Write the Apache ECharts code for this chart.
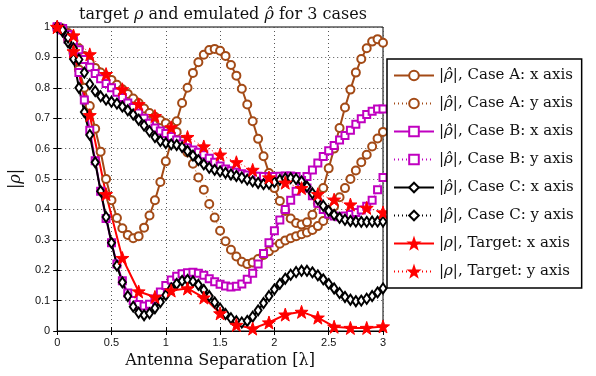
<!DOCTYPE html>
<html>
<head>
<meta charset="utf-8">
<script src="https://cdn.jsdelivr.net/npm/echarts@6/dist/echarts.min.js"></script>
<style>
  html, body { margin: 0; padding: 0; background: #fff; }
  #chart { width: 596px; height: 376px; }
</style>
</head>
<body>
<div id="chart"></div>
<script>
// antenna separation (in wavelengths) for the emulated curves
const sepFine = [0, 0.05, 0.1, 0.15, 0.2, 0.25, 0.3, 0.35, 0.4, 0.45, 0.5, 0.55, 0.6, 0.65, 0.7, 0.75, 0.8, 0.85, 0.9, 0.95,
	1, 1.05, 1.1, 1.15, 1.2, 1.25, 1.3, 1.35, 1.4, 1.45, 1.5, 1.55, 1.6, 1.65, 1.7, 1.75, 1.8, 1.85, 1.9, 1.95,
	2, 2.05, 2.1, 2.15, 2.2, 2.25, 2.3, 2.35, 2.4, 2.45, 2.5, 2.55, 2.6, 2.65, 2.7, 2.75, 2.8, 2.85, 2.9, 2.95, 3];
// separation for the target curves
const sepTarget = [0, 0.15, 0.3, 0.45, 0.6, 0.75, 0.9, 1.05, 1.2, 1.35, 1.5, 1.65, 1.8, 1.95, 2.1, 2.25, 2.4, 2.55, 2.7, 2.85, 3];

const caseAx = [1, 0.99, 0.96, 0.915, 0.86, 0.8, 0.74, 0.665, 0.59, 0.5, 0.43, 0.372, 0.338, 0.316, 0.305, 0.312, 0.34, 0.38, 0.43, 0.49,
	0.558, 0.624, 0.69, 0.75, 0.8, 0.849, 0.884, 0.909, 0.924, 0.928, 0.922, 0.905, 0.875, 0.84, 0.797, 0.745, 0.69, 0.632, 0.575, 0.52,
	0.47, 0.428, 0.395, 0.37, 0.355, 0.35, 0.358, 0.382, 0.42, 0.47, 0.535, 0.6, 0.668, 0.735, 0.794, 0.85, 0.895, 0.93, 0.952, 0.96, 0.948];
const caseAy = [1, 0.995, 0.98, 0.955, 0.93, 0.905, 0.882, 0.865, 0.85, 0.838, 0.826, 0.81, 0.795, 0.78, 0.765, 0.75, 0.732, 0.717, 0.705, 0.693,
	0.683, 0.672, 0.655, 0.625, 0.587, 0.55, 0.505, 0.465, 0.418, 0.373, 0.33, 0.295, 0.267, 0.245, 0.228, 0.22, 0.225, 0.237, 0.25, 0.262,
	0.275, 0.287, 0.298, 0.305, 0.312, 0.318, 0.324, 0.332, 0.345, 0.362, 0.385, 0.41, 0.44, 0.47, 0.5, 0.528, 0.555, 0.58, 0.607, 0.633, 0.655];
const caseBx = [1, 0.99, 0.96, 0.915, 0.85, 0.76, 0.66, 0.56, 0.46, 0.37, 0.29, 0.22, 0.165, 0.125, 0.1, 0.087, 0.082, 0.088, 0.105, 0.128,
	0.15, 0.168, 0.18, 0.188, 0.192, 0.193, 0.19, 0.183, 0.172, 0.162, 0.154, 0.148, 0.145, 0.147, 0.155, 0.17, 0.19, 0.22, 0.255, 0.29,
	0.33, 0.365, 0.4, 0.43, 0.46, 0.485, 0.508, 0.53, 0.553, 0.574, 0.593, 0.61, 0.628, 0.643, 0.66, 0.68, 0.698, 0.712, 0.723, 0.73, 0.73];
const caseBy = [1, 0.995, 0.975, 0.955, 0.925, 0.893, 0.868, 0.847, 0.83, 0.814, 0.8, 0.785, 0.768, 0.75, 0.735, 0.717, 0.7, 0.683, 0.668, 0.658,
	0.65, 0.64, 0.628, 0.615, 0.603, 0.595, 0.588, 0.58, 0.568, 0.555, 0.543, 0.533, 0.527, 0.522, 0.517, 0.513, 0.51, 0.509, 0.508, 0.508,
	0.508, 0.509, 0.51, 0.51, 0.508, 0.495, 0.47, 0.445, 0.42, 0.4, 0.385, 0.378, 0.376, 0.378, 0.383, 0.39, 0.398, 0.41, 0.43, 0.465, 0.505];
const caseCx = [1, 0.985, 0.95, 0.895, 0.8, 0.72, 0.645, 0.555, 0.46, 0.375, 0.29, 0.215, 0.16, 0.115, 0.08, 0.06, 0.052, 0.058, 0.075, 0.095,
	0.118, 0.14, 0.155, 0.165, 0.168, 0.163, 0.152, 0.135, 0.115, 0.094, 0.074, 0.056, 0.042, 0.032, 0.028, 0.033, 0.047, 0.068, 0.092, 0.115,
	0.137, 0.155, 0.172, 0.185, 0.194, 0.198, 0.198, 0.193, 0.183, 0.17, 0.155, 0.14, 0.125, 0.112, 0.103, 0.098, 0.1, 0.106, 0.115, 0.127, 0.14];
const caseCy = [1, 0.99, 0.965, 0.93, 0.893, 0.85, 0.812, 0.789, 0.772, 0.761, 0.754, 0.748, 0.738, 0.726, 0.712, 0.695, 0.676, 0.657, 0.638, 0.625,
	0.618, 0.614, 0.612, 0.605, 0.592, 0.577, 0.562, 0.548, 0.537, 0.53, 0.525, 0.52, 0.515, 0.51, 0.505, 0.498, 0.492, 0.487, 0.483, 0.484,
	0.49, 0.497, 0.502, 0.503, 0.5, 0.492, 0.475, 0.453, 0.432, 0.412, 0.395, 0.382, 0.372, 0.366, 0.362, 0.36, 0.359, 0.359, 0.36, 0.36, 0.36];
const targetX = [1, 0.92, 0.71, 0.45, 0.24, 0.13, 0.112, 0.133, 0.14, 0.11, 0.058, 0.02, 0.008, 0.028, 0.054, 0.063, 0.044, 0.014, 0.01, 0.01, 0.015];
const targetY = [1, 0.972, 0.91, 0.845, 0.795, 0.746, 0.707, 0.67, 0.638, 0.607, 0.58, 0.555, 0.53, 0.505, 0.488, 0.47, 0.45, 0.432, 0.416, 0.405, 0.39];

const brown = "#a34a16";
const magenta = "#c000c0";

const pair = (xs, ys) => ys.map((v, i) => [xs[i], v]);

const mk = (name, xs, ys, color, symbol, size, dotted, filled) => ({
	name: name,
	type: "line",
	data: pair(xs, ys),
	symbol: symbol,
	symbolSize: size,
	showSymbol: true,
	animation: false,
	lineStyle: { color: color, width: dotted ? 1 : 2, type: dotted ? [1, 3] : "solid" },
	itemStyle: { color: filled ? color : "#fff", borderColor: color, borderWidth: filled ? 1 : 2 },
	emphasis: { disabled: true },
});

const diamond = "path://M0,-6L4,0L0,6L-4,0Z";
const star = "path://M0,-10L2.35,-3.24L9.51,-3.09L3.8,1.24L5.88,8.09L0,4L-5.88,8.09L-3.8,1.24L-9.51,-3.09L-2.35,-3.24Z";

const series = [
	mk("A x", sepFine, caseAx, brown, "circle", 8, false, false),
	mk("A y", sepFine, caseAy, brown, "circle", 8, true, false),
	mk("B x", sepFine, caseBx, magenta, "rect", 7, false, false),
	mk("B y", sepFine, caseBy, magenta, "rect", 7, true, false),
	mk("C x", sepFine, caseCx, "#000", diamond, [7, 10], false, false),
	mk("C y", sepFine, caseCy, "#000", diamond, [7, 10], true, false),
	mk("T x", sepTarget, targetX, "#f00", star, 13, false, true),
	mk("T y", sepTarget, targetY, "#f00", star, 13, true, true),
];

const hat = "{i|ρ̂}";
const legendNames = {
	"A x": "|" + hat + "|, Case A: x axis",
	"A y": "|" + hat + "|, Case A: y axis",
	"B x": "|" + hat + "|, Case B: x axis",
	"B y": "|" + hat + "|, Case B: y axis",
	"C x": "|" + hat + "|, Case C: x axis",
	"C y": "|" + hat + "|, Case C: y axis",
	"T x": "|{i|ρ}|, Target: x axis",
	"T y": "|{i|ρ}|, Target: y axis",
};

const serif = "'DejaVu Serif', 'Liberation Serif', serif";
const sans = "'Liberation Sans', Arial, sans-serif";
const ink = "#111";

const myChart = echarts.init(document.getElementById("chart"));
const option = {
	backgroundColor: "#fff",
	animation: false,
	title: {
		text: "target {i|ρ} and emulated {i|ρ̂} for 3 cases",
		left: 218,
		textAlign: "center",
		top: 2,
		textStyle: {
			fontFamily: serif, fontWeight: "normal", fontSize: 16, color: ink,
			rich: { i: { fontFamily: serif, fontStyle: "italic", fontSize: 16, color: ink } },
		},
	},
	grid: { left: 55, right: 213, top: 27, bottom: 45, show: true, borderColor: "#000", borderWidth: 1, backgroundColor: "transparent" },
	legend: {
		orient: "vertical",
		left: 387,
		top: 59,
		padding: [9, 8, 9, 6],
		itemWidth: 40,
		itemHeight: 12,
		itemGap: 13,
		backgroundColor: "#fff",
		borderColor: "#000",
		borderWidth: 1.5,
		borderRadius: 0,
		selectedMode: false,
		formatter: (n) => legendNames[n],
		textStyle: {
			fontFamily: serif, fontSize: 15, color: ink,
			rich: { i: { fontFamily: serif, fontStyle: "italic", fontSize: 15, color: ink } },
		},
	},
	xAxis: [
		{
			type: "value", min: 0, max: 3, interval: 0.5,
			name: "Antenna Separation [λ]", nameLocation: "middle", nameGap: 22,
			nameTextStyle: { fontFamily: serif, fontSize: 16, color: ink },
			axisLine: { show: true, lineStyle: { color: "#000", width: 1 } },
			axisTick: { show: true, inside: true, length: 4, lineStyle: { color: "#000" } },
			axisLabel: { fontFamily: sans, fontSize: 11, color: ink, margin: 6 },
			splitLine: { show: true, lineStyle: { color: "#555", type: [1, 3], width: 1 } },
		},
		{
			type: "value", min: 0, max: 3, interval: 0.5, position: "top",
			axisLine: { show: true, lineStyle: { color: "#000" } },
			axisTick: { show: true, inside: true, length: 4, lineStyle: { color: "#000" } },
			axisLabel: { show: false }, splitLine: { show: false },
		},
	],
	yAxis: [
		{
			type: "value", min: 0, max: 1, interval: 0.1,
			name: "|ρ|", nameLocation: "middle", nameGap: 30, nameRotate: 90,
			nameTextStyle: { fontFamily: serif, fontStyle: "italic", fontSize: 16, color: ink },
			axisLine: { show: true, lineStyle: { color: "#000", width: 1 } },
			axisTick: { show: true, inside: true, length: 4, lineStyle: { color: "#000" } },
			axisLabel: { fontFamily: sans, fontSize: 11, color: ink, margin: 7 },
			splitLine: { show: true, lineStyle: { color: "#555", type: [1, 3], width: 1 } },
		},
		{
			type: "value", min: 0, max: 1, interval: 0.1, position: "right",
			axisLine: { show: true, lineStyle: { color: "#000" } },
			axisTick: { show: true, inside: true, length: 4, lineStyle: { color: "#000" } },
			axisLabel: { show: false }, splitLine: { show: false },
		},
	],
	series: series,
};
myChart.setOption(option);
</script>
</body>
</html>
